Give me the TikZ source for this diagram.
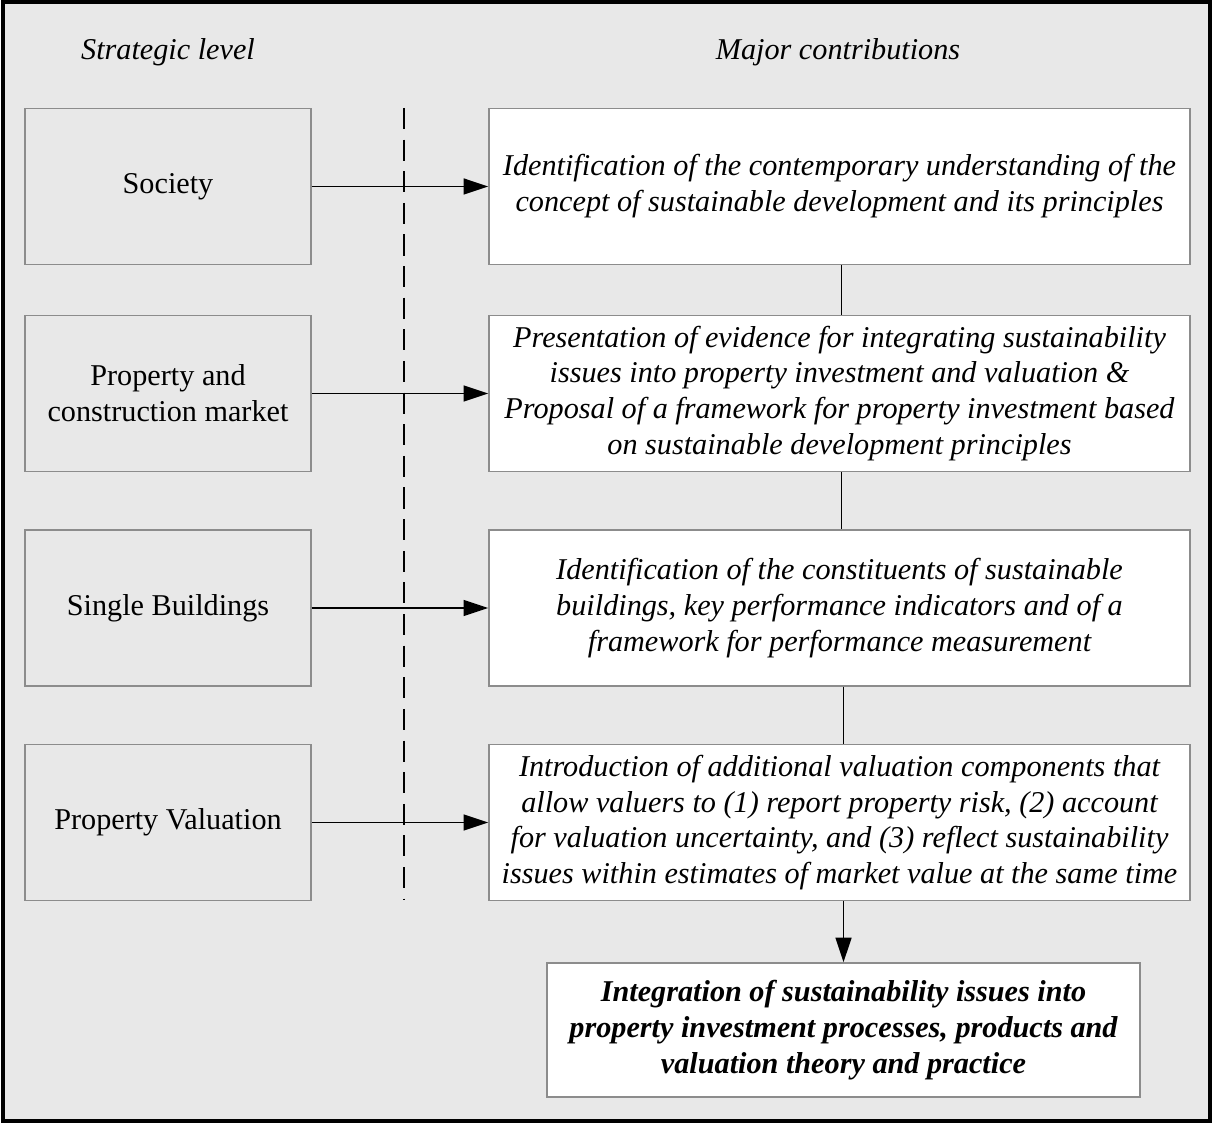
\documentclass[tikz,border=0pt]{standalone}
\usepackage{fontspec}
\setmainfont{Liberation Serif}
\usetikzlibrary{arrows.meta}
\definecolor{panel}{HTML}{E8E8E8}
\definecolor{edge}{HTML}{8C8C8C}
\newcommand{\boxfont}{\fontsize{17.2}{20.4}\selectfont}
\begin{document}
\begin{tikzpicture}[x=0.02cm,y=-0.02cm,
  levelbox/.style={draw=edge,line width=0.8pt,fill=panel,minimum width=286*0.02cm,minimum height=156*0.02cm,
    align=center,font=\boxfont,inner sep=0pt},
  contribbox/.style={draw=edge,line width=0.8pt,fill=white,minimum width=701*0.02cm,minimum height=156*0.02cm,
    align=center,font=\boxfont\itshape,inner sep=0pt},
  heading/.style={font=\boxfont\itshape},
  flow/.style={line width=1.1pt,-{Triangle[length=14pt,width=9pt]}},
  link/.style={line width=1pt}]
% frame
\draw[fill=panel,line width=2pt] (3,2) rectangle (1210,1121);
\useasboundingbox (0,0) rectangle (1213,1124);
% headings
\node[heading] (hl) at (168,52) {Strategic level};
\node[heading] (hr) at (838,52) {Major contributions};
% strategic levels
\node[levelbox] (s1) at (168,186.5) {Society};
\node[levelbox] (s2) at (168,393.5) {Property and\\construction market};
\node[levelbox] (s3) at (168,608) {Single Buildings};
\node[levelbox] (s4) at (168,822.5) {Property Valuation};
% contributions
\node[contribbox] (c1) at (839.5,186.5) {Identification of the contemporary understanding of the\\concept of sustainable development and its principles};
\node[contribbox] (c2) at (839.5,393.5) {Presentation of evidence for integrating sustainability\\issues into property investment and valuation \&\\Proposal of a framework for property investment based\\on sustainable development principles};
\node[contribbox] (c3) at (839.5,608) {Identification of the constituents of sustainable\\buildings, key performance indicators and of a\\framework for performance measurement};
\node[contribbox] (c4) at (839.5,822.5) {Introduction of additional valuation components that\\allow valuers to (1) report property risk, (2) account\\for valuation uncertainty, and (3) reflect sustainability\\issues within estimates of market value at the same time};
\node[contribbox,minimum width=593*0.02cm,minimum height=134*0.02cm,font=\boxfont\itshape\bfseries] (fin) at (843.5,1030) {Integration of sustainability issues into\\property investment processes, products and\\valuation theory and practice};
% divider
\coordinate (dtop) at (404,108);
\coordinate (dbot) at (404,900);
\draw[line width=0.9pt,dash pattern=on 12pt off 6pt] (dtop) -- (dbot);
% connectors
\draw[flow] (s1.east) -- (c1.west);
\draw[flow] (s2.east) -- (c2.west);
\draw[flow] (s3.east) -- (c3.west);
\draw[flow] (s4.east) -- (c4.west);
\draw[link] ([xshift=2*0.02cm]c1.south) -- ([xshift=2*0.02cm]c2.north);
\draw[link] ([xshift=2*0.02cm]c2.south) -- ([xshift=2*0.02cm]c3.north);
\draw[link] ([xshift=4*0.02cm]c3.south) -- ([xshift=4*0.02cm]c4.north);
\draw[flow] ([xshift=4*0.02cm]c4.south) -- (fin.north);
\end{tikzpicture}
\end{document}
